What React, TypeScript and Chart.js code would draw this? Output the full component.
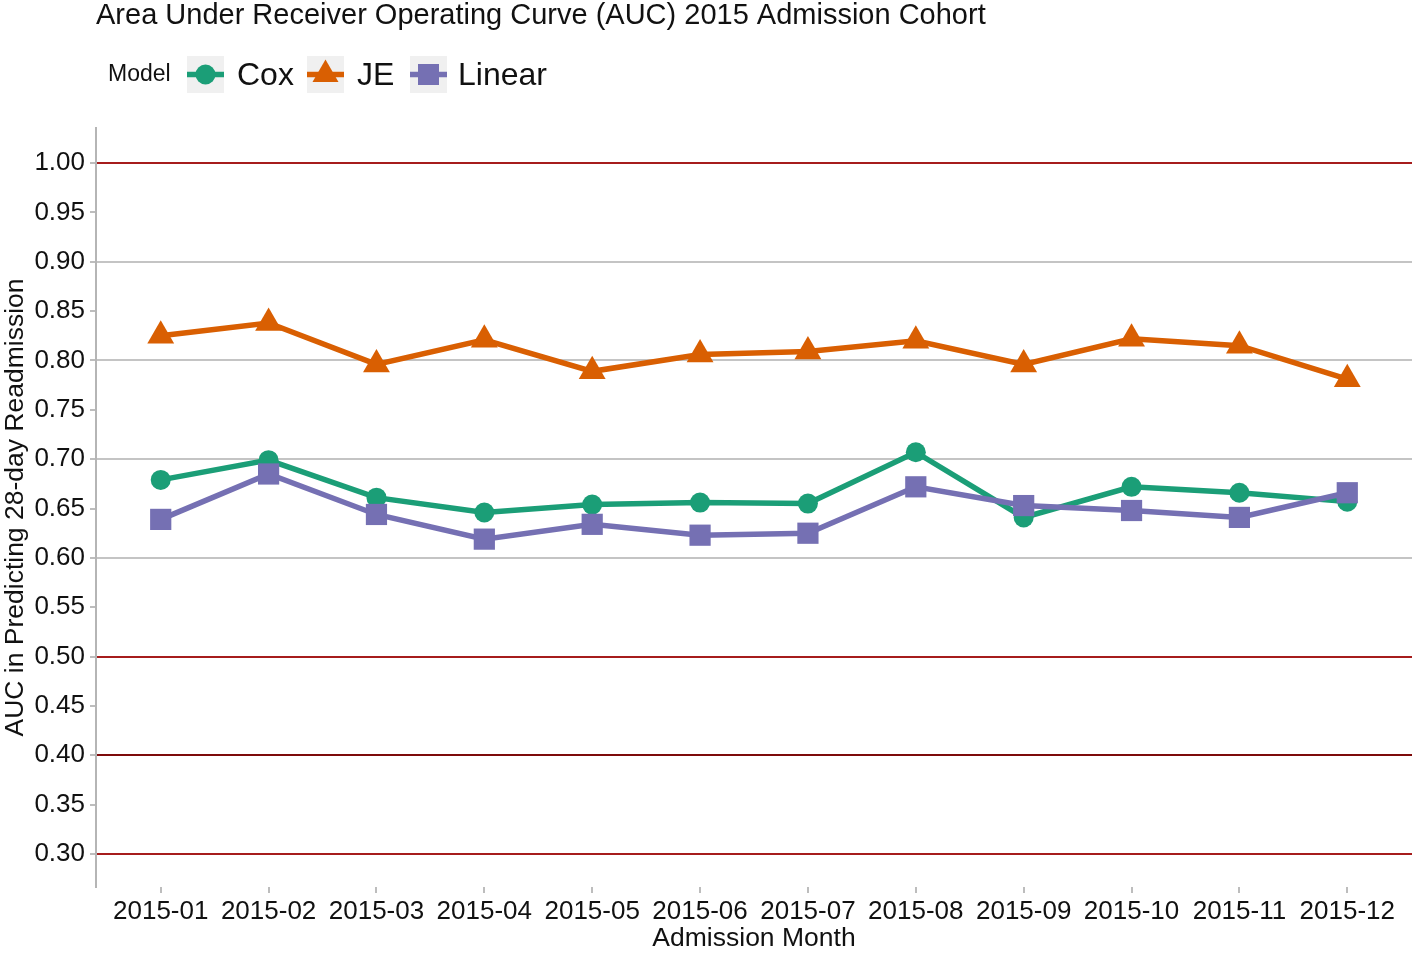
import React, { useEffect, useRef } from "react";
import { Chart, registerables } from "chart.js";

Chart.register(...registerables);

const months = [
  "2015-01", "2015-02", "2015-03", "2015-04", "2015-05", "2015-06",
  "2015-07", "2015-08", "2015-09", "2015-10", "2015-11", "2015-12",
];
const coxValues = [0.679, 0.699, 0.661, 0.646, 0.654, 0.656, 0.655, 0.707, 0.641, 0.672, 0.666, 0.657];
const jeValues = [0.825, 0.838, 0.796, 0.821, 0.789, 0.806, 0.809, 0.820, 0.796, 0.822, 0.815, 0.781];
const linearValues = [0.639, 0.685, 0.644, 0.619, 0.634, 0.623, 0.625, 0.672, 0.653, 0.648, 0.641, 0.666];
const yTicks = [0.3, 0.35, 0.4, 0.45, 0.5, 0.55, 0.6, 0.65, 0.7, 0.75, 0.8, 0.85, 0.9, 0.95, 1.0];
const redLines = [0.3, 0.4, 0.5, 1.0];
const grayLines = [0.6, 0.7, 0.8, 0.9];

const TITLE = "Area Under Receiver Operating Curve (AUC) 2015 Admission Cohort";
const FONT = "'Liberation Sans', Arial, Helvetica, sans-serif";
const COX = "#1b9e77";
const JE = "#d95f02";
const LIN = "#7570b3";

const toPts = (vals: number[]) => vals.map((v, i) => ({ x: i, y: v }));

function drawMarker(ctx: CanvasRenderingContext2D, kind: string, x: number, y: number, color: string) {
  ctx.save();
  ctx.fillStyle = color;
  ctx.beginPath();
  if (kind === "circle") {
    ctx.arc(x, y, 10, 0, Math.PI * 2);
  } else if (kind === "triangle") {
    const r = 15;
    ctx.moveTo(x, y - r);
    ctx.lineTo(x + r * Math.sin((2 * Math.PI) / 3), y - r * Math.cos((2 * Math.PI) / 3));
    ctx.lineTo(x + r * Math.sin((4 * Math.PI) / 3), y - r * Math.cos((4 * Math.PI) / 3));
    ctx.closePath();
  } else {
    ctx.rect(x - 10.5, y - 10.5, 21, 21);
  }
  ctx.fill();
  ctx.restore();
}

const headerPlugin = {
  id: "header",
  afterDraw(chart: any) {
    const ctx: CanvasRenderingContext2D = chart.ctx;
    ctx.save();
    ctx.fillStyle = "#111";
    ctx.textBaseline = "middle";
    ctx.textAlign = "left";
    ctx.font = `29px ${FONT}`;
    ctx.fillText(TITLE, 96, 16);

    ctx.font = `23px ${FONT}`;
    ctx.fillText("Model", 108, 75);

    const items = [
      { label: "Cox", color: COX, kind: "circle", box: 187, text: 237 },
      { label: "JE", color: JE, kind: "triangle", box: 307, text: 357 },
      { label: "Linear", color: LIN, kind: "square", box: 410, text: 458 },
    ];
    const cy = 74.5;
    for (const it of items) {
      ctx.fillStyle = "#f0f0f0";
      ctx.fillRect(it.box, 56, 37, 37);
      ctx.strokeStyle = it.color;
      ctx.lineWidth = 5.5;
      ctx.beginPath();
      ctx.moveTo(it.box, cy);
      ctx.lineTo(it.box + 37, cy);
      ctx.stroke();
      drawMarker(ctx, it.kind, it.box + 18.5, cy, it.color);
      ctx.fillStyle = "#111";
      ctx.font = `32px ${FONT}`;
      ctx.fillText(it.label, it.text, cy + 1.5);
    }
    ctx.restore();
  },
};

export default function App() {
  const ref = useRef<HTMLCanvasElement | null>(null);

  useEffect(() => {
    if (!ref.current) return;
    const gridColor = (v: number) => {
      const k = Math.round(v * 100);
      if (k === 40) return "#7d0a0a";
      if (redLines.some((r) => Math.round(r * 100) === k)) return "#a61c1c";
      if (grayLines.some((g) => Math.round(g * 100) === k)) return "#c4c4c4";
      return "rgba(0,0,0,0)";
    };
    const chart = new Chart(ref.current, {
      type: "line",
      data: {
        datasets: [
          {
            label: "Cox",
            data: toPts(coxValues),
            borderColor: COX,
            backgroundColor: COX,
            borderWidth: 5.5,
            pointStyle: "circle",
            pointRadius: 10,
            pointBorderWidth: 0,
            order: 1,
          },
          {
            label: "JE",
            data: toPts(jeValues),
            borderColor: JE,
            backgroundColor: JE,
            borderWidth: 5.5,
            pointStyle: "triangle",
            pointRadius: 15.5,
            pointBorderWidth: 0,
            order: 2,
          },
          {
            label: "Linear",
            data: toPts(linearValues),
            borderColor: LIN,
            backgroundColor: LIN,
            borderWidth: 5.5,
            pointStyle: "rect",
            pointRadius: 15,
            pointBorderWidth: 0,
            order: 0,
          },
        ],
      },
      options: {
        animation: false,
        responsive: false,
        layout: { autoPadding: false, padding: { top: 128, right: 4, left: 0, bottom: 0 } },
        plugins: {
          legend: { display: false },
          tooltip: { enabled: false },
          title: { display: false },
        },
        scales: {
          x: {
            type: "linear",
            min: -0.6,
            max: 11.6,
            afterFit: (s: any) => {
              s.height = 68;
              s.paddingLeft = 0;
              s.paddingRight = 0;
            },
            afterBuildTicks: (s: any) => {
              s.ticks = months.map((_, i) => ({ value: i }));
            },
            ticks: {
              autoSkip: false,
              maxRotation: 0,
              padding: 3,
              color: "#111",
              font: { size: 26, family: FONT },
              callback: (v: any) => months[v] ?? "",
            },
            grid: {
              drawOnChartArea: false,
              drawTicks: true,
              tickLength: 6,
              tickColor: "#bdbdbd",
              lineWidth: 2,
            },
            border: { display: false },
            title: {
              display: true,
              text: "Admission Month",
              color: "#111",
              font: { size: 26.5, family: FONT },
              padding: 0,
            },
          },
          y: {
            type: "linear",
            min: 0.2666,
            max: 1.0355,
            afterFit: (s: any) => {
              s.width = 96;
              s.paddingTop = 0;
              s.paddingBottom = 0;
            },
            afterBuildTicks: (s: any) => {
              s.ticks = yTicks.map((v) => ({ value: v }));
            },
            ticks: {
              padding: 5,
              color: "#111",
              font: { size: 26, family: FONT },
              callback: (v: any) => Number(v).toFixed(2),
            },
            grid: {
              drawTicks: true,
              tickLength: 6,
              tickColor: "#bdbdbd",
              lineWidth: 2,
              color: (c: any) => gridColor(c.tick ? c.tick.value : 0),
            },
            border: { display: true, color: "#b5b5b5", width: 2 },
            title: {
              display: true,
              text: "AUC in Predicting 28-day Readmission",
              color: "#111",
              font: { size: 26.5, family: FONT },
              padding: 0,
            },
          },
        },
      },
      plugins: [headerPlugin],
    } as any);
    return () => chart.destroy();
  }, []);

  return (
    <div style={{ position: "fixed", left: 0, top: 0, width: 1416, height: 955, background: "#fff" }}>
      <canvas ref={ref} width={1416} height={955} style={{ display: "block" }} />
    </div>
  );
}
